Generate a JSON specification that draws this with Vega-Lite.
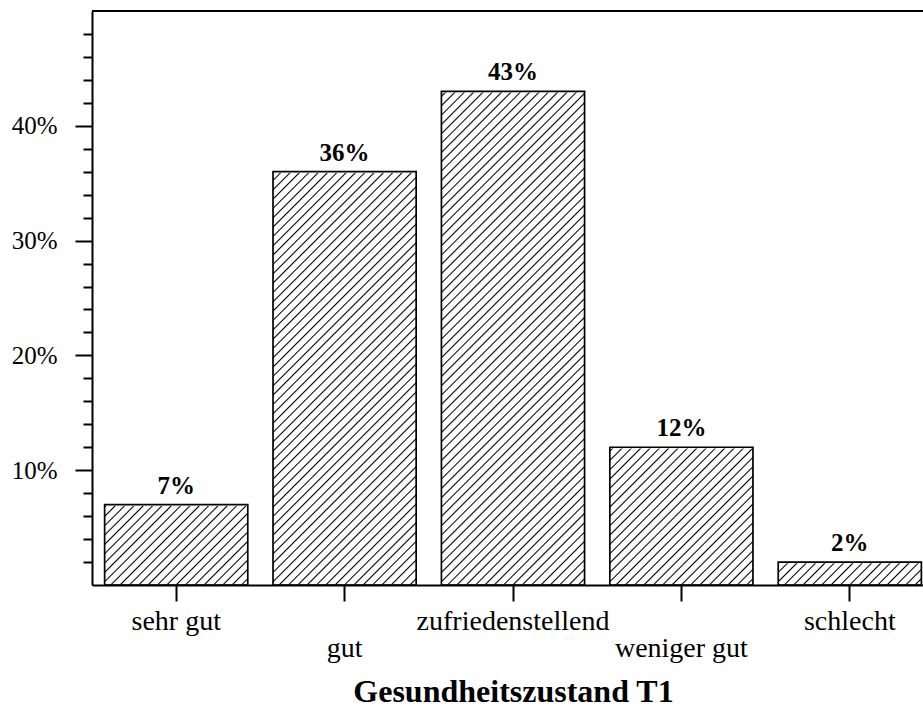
{
  "$schema": "https://vega.github.io/schema/vega-lite/v6.json",
  "width": 831,
  "height": 574,
  "autosize": {"type": "none"},
  "padding": {"left": 92, "top": 11, "right": 0, "bottom": 122},
  "background": "#ffffff",
  "config": {"view": {"stroke": null}, "font": "Liberation Serif"},
  "resolve": {"axis": {"x": "independent", "y": "independent"}},
  "data": {"values": [
    {"k": "sehr gut", "v": 0.07},
    {"k": "gut", "v": 0.36},
    {"k": "zufriedenstellend", "v": 0.43},
    {"k": "weniger gut", "v": 0.12},
    {"k": "schlecht", "v": 0.02}
  ]},
  "layer": [
    {
      "mark": {"type": "bar", "strokeWidth": 0, "fill": {"gradient": "linear", "x1": 0, "y1": 0, "x2": 0.3718, "y2": 1.3424, "stops": [
        {"offset":0,"color":"#000"},{"offset":0.002,"color":"#fff"},
        {"offset":0.0105,"color":"#fff"},{"offset":0.0125,"color":"#000"},{"offset":0.0145,"color":"#fff"},
        {"offset":0.023,"color":"#fff"},{"offset":0.025,"color":"#000"},{"offset":0.027,"color":"#fff"},
        {"offset":0.0355,"color":"#fff"},{"offset":0.0375,"color":"#000"},{"offset":0.0395,"color":"#fff"},
        {"offset":0.048,"color":"#fff"},{"offset":0.05,"color":"#000"},{"offset":0.052,"color":"#fff"},
        {"offset":0.0605,"color":"#fff"},{"offset":0.0625,"color":"#000"},{"offset":0.0645,"color":"#fff"},
        {"offset":0.073,"color":"#fff"},{"offset":0.075,"color":"#000"},{"offset":0.077,"color":"#fff"},
        {"offset":0.0855,"color":"#fff"},{"offset":0.0875,"color":"#000"},{"offset":0.0895,"color":"#fff"},
        {"offset":0.098,"color":"#fff"},{"offset":0.1,"color":"#000"},{"offset":0.102,"color":"#fff"},
        {"offset":0.1105,"color":"#fff"},{"offset":0.1125,"color":"#000"},{"offset":0.1145,"color":"#fff"},
        {"offset":0.123,"color":"#fff"},{"offset":0.125,"color":"#000"},{"offset":0.127,"color":"#fff"},
        {"offset":0.1355,"color":"#fff"},{"offset":0.1375,"color":"#000"},{"offset":0.1395,"color":"#fff"},
        {"offset":0.148,"color":"#fff"},{"offset":0.15,"color":"#000"},{"offset":0.152,"color":"#fff"},
        {"offset":0.1605,"color":"#fff"},{"offset":0.1625,"color":"#000"},{"offset":0.1645,"color":"#fff"},
        {"offset":0.173,"color":"#fff"},{"offset":0.175,"color":"#000"},{"offset":0.177,"color":"#fff"},
        {"offset":0.1855,"color":"#fff"},{"offset":0.1875,"color":"#000"},{"offset":0.1895,"color":"#fff"},
        {"offset":0.198,"color":"#fff"},{"offset":0.2,"color":"#000"},{"offset":0.202,"color":"#fff"},
        {"offset":0.2105,"color":"#fff"},{"offset":0.2125,"color":"#000"},{"offset":0.2145,"color":"#fff"},
        {"offset":0.223,"color":"#fff"},{"offset":0.225,"color":"#000"},{"offset":0.227,"color":"#fff"},
        {"offset":0.2355,"color":"#fff"},{"offset":0.2375,"color":"#000"},{"offset":0.2395,"color":"#fff"},
        {"offset":0.248,"color":"#fff"},{"offset":0.25,"color":"#000"},{"offset":0.252,"color":"#fff"},
        {"offset":0.2605,"color":"#fff"},{"offset":0.2625,"color":"#000"},{"offset":0.2645,"color":"#fff"},
        {"offset":0.273,"color":"#fff"},{"offset":0.275,"color":"#000"},{"offset":0.277,"color":"#fff"},
        {"offset":0.2855,"color":"#fff"},{"offset":0.2875,"color":"#000"},{"offset":0.2895,"color":"#fff"},
        {"offset":0.298,"color":"#fff"},{"offset":0.3,"color":"#000"},{"offset":0.302,"color":"#fff"},
        {"offset":0.3105,"color":"#fff"},{"offset":0.3125,"color":"#000"},{"offset":0.3145,"color":"#fff"},
        {"offset":0.323,"color":"#fff"},{"offset":0.325,"color":"#000"},{"offset":0.327,"color":"#fff"},
        {"offset":0.3355,"color":"#fff"},{"offset":0.3375,"color":"#000"},{"offset":0.3395,"color":"#fff"},
        {"offset":0.348,"color":"#fff"},{"offset":0.35,"color":"#000"},{"offset":0.352,"color":"#fff"},
        {"offset":0.3605,"color":"#fff"},{"offset":0.3625,"color":"#000"},{"offset":0.3645,"color":"#fff"},
        {"offset":0.373,"color":"#fff"},{"offset":0.375,"color":"#000"},{"offset":0.377,"color":"#fff"},
        {"offset":0.3855,"color":"#fff"},{"offset":0.3875,"color":"#000"},{"offset":0.3895,"color":"#fff"},
        {"offset":0.398,"color":"#fff"},{"offset":0.4,"color":"#000"},{"offset":0.402,"color":"#fff"},
        {"offset":0.4105,"color":"#fff"},{"offset":0.4125,"color":"#000"},{"offset":0.4145,"color":"#fff"},
        {"offset":0.423,"color":"#fff"},{"offset":0.425,"color":"#000"},{"offset":0.427,"color":"#fff"},
        {"offset":0.4355,"color":"#fff"},{"offset":0.4375,"color":"#000"},{"offset":0.4395,"color":"#fff"},
        {"offset":0.448,"color":"#fff"},{"offset":0.45,"color":"#000"},{"offset":0.452,"color":"#fff"},
        {"offset":0.4605,"color":"#fff"},{"offset":0.4625,"color":"#000"},{"offset":0.4645,"color":"#fff"},
        {"offset":0.473,"color":"#fff"},{"offset":0.475,"color":"#000"},{"offset":0.477,"color":"#fff"},
        {"offset":0.4855,"color":"#fff"},{"offset":0.4875,"color":"#000"},{"offset":0.4895,"color":"#fff"},
        {"offset":0.498,"color":"#fff"},{"offset":0.5,"color":"#000"},{"offset":0.502,"color":"#fff"},
        {"offset":0.5105,"color":"#fff"},{"offset":0.5125,"color":"#000"},{"offset":0.5145,"color":"#fff"},
        {"offset":0.523,"color":"#fff"},{"offset":0.525,"color":"#000"},{"offset":0.527,"color":"#fff"},
        {"offset":0.5355,"color":"#fff"},{"offset":0.5375,"color":"#000"},{"offset":0.5395,"color":"#fff"},
        {"offset":0.548,"color":"#fff"},{"offset":0.55,"color":"#000"},{"offset":0.552,"color":"#fff"},
        {"offset":0.5605,"color":"#fff"},{"offset":0.5625,"color":"#000"},{"offset":0.5645,"color":"#fff"},
        {"offset":0.573,"color":"#fff"},{"offset":0.575,"color":"#000"},{"offset":0.577,"color":"#fff"},
        {"offset":0.5855,"color":"#fff"},{"offset":0.5875,"color":"#000"},{"offset":0.5895,"color":"#fff"},
        {"offset":0.598,"color":"#fff"},{"offset":0.6,"color":"#000"},{"offset":0.602,"color":"#fff"},
        {"offset":0.6105,"color":"#fff"},{"offset":0.6125,"color":"#000"},{"offset":0.6145,"color":"#fff"},
        {"offset":0.623,"color":"#fff"},{"offset":0.625,"color":"#000"},{"offset":0.627,"color":"#fff"},
        {"offset":0.6355,"color":"#fff"},{"offset":0.6375,"color":"#000"},{"offset":0.6395,"color":"#fff"},
        {"offset":0.648,"color":"#fff"},{"offset":0.65,"color":"#000"},{"offset":0.652,"color":"#fff"},
        {"offset":0.6605,"color":"#fff"},{"offset":0.6625,"color":"#000"},{"offset":0.6645,"color":"#fff"},
        {"offset":0.673,"color":"#fff"},{"offset":0.675,"color":"#000"},{"offset":0.677,"color":"#fff"},
        {"offset":0.6855,"color":"#fff"},{"offset":0.6875,"color":"#000"},{"offset":0.6895,"color":"#fff"},
        {"offset":0.698,"color":"#fff"},{"offset":0.7,"color":"#000"},{"offset":0.702,"color":"#fff"},
        {"offset":0.7105,"color":"#fff"},{"offset":0.7125,"color":"#000"},{"offset":0.7145,"color":"#fff"},
        {"offset":0.723,"color":"#fff"},{"offset":0.725,"color":"#000"},{"offset":0.727,"color":"#fff"},
        {"offset":0.7355,"color":"#fff"},{"offset":0.7375,"color":"#000"},{"offset":0.7395,"color":"#fff"},
        {"offset":0.748,"color":"#fff"},{"offset":0.75,"color":"#000"},{"offset":0.752,"color":"#fff"},
        {"offset":0.7605,"color":"#fff"},{"offset":0.7625,"color":"#000"},{"offset":0.7645,"color":"#fff"},
        {"offset":0.773,"color":"#fff"},{"offset":0.775,"color":"#000"},{"offset":0.777,"color":"#fff"},
        {"offset":0.7855,"color":"#fff"},{"offset":0.7875,"color":"#000"},{"offset":0.7895,"color":"#fff"},
        {"offset":0.798,"color":"#fff"},{"offset":0.8,"color":"#000"},{"offset":0.802,"color":"#fff"},
        {"offset":0.8105,"color":"#fff"},{"offset":0.8125,"color":"#000"},{"offset":0.8145,"color":"#fff"},
        {"offset":0.823,"color":"#fff"},{"offset":0.825,"color":"#000"},{"offset":0.827,"color":"#fff"},
        {"offset":0.8355,"color":"#fff"},{"offset":0.8375,"color":"#000"},{"offset":0.8395,"color":"#fff"},
        {"offset":0.848,"color":"#fff"},{"offset":0.85,"color":"#000"},{"offset":0.852,"color":"#fff"},
        {"offset":0.8605,"color":"#fff"},{"offset":0.8625,"color":"#000"},{"offset":0.8645,"color":"#fff"},
        {"offset":0.873,"color":"#fff"},{"offset":0.875,"color":"#000"},{"offset":0.877,"color":"#fff"},
        {"offset":0.8855,"color":"#fff"},{"offset":0.8875,"color":"#000"},{"offset":0.8895,"color":"#fff"}
      ]}},
      "encoding": {
        "x": {"field": "k", "type": "nominal", "sort": null, "title": "Gesundheitszustand T1", "axis": null},
        "y": {"datum": 0.45, "type": "quantitative", "title": null, "axis": null},
        "y2": {"datum": 0}
      }
    },
    {
      "mark": {"type": "bar", "fill": "#ffffff", "stroke": "#ffffff", "strokeWidth": 2.5},
      "encoding": {
        "x": {"field": "k", "type": "nominal", "sort": null, "title": "Gesundheitszustand T1", "axis": null},
        "y": {"field": "v", "type": "quantitative", "title": null, "axis": null},
        "y2": {"datum": 0.47}
      }
    },
    {
      "mark": {"type": "bar", "fill": "#ffffff", "fillOpacity": 0, "stroke": "#000", "strokeWidth": 1.7},
      "encoding": {
        "x": {"field": "k", "type": "nominal", "sort": null, "title": "Gesundheitszustand T1",
              "scale": {"range": [0, 842], "paddingInner": 0.15, "paddingOuter": 0.075},
              "axis": {
                "zindex": 1, "labelAngle": 0, "labelFont": "Liberation Serif", "labelFontSize": 28, "labelColor": "#000",
                "labelLimit": 0, "labelOverlap": false, "labelFlush": false, "labelBaseline": "alphabetic",
                "labelPadding": 28, "labelLineHeight": 27,
                "labelExpr": "datum.label == 'gut' || datum.label == 'weniger gut' ? ['', datum.label] : datum.label",
                "tickSize": 16, "tickWidth": 2, "tickColor": "#000", "domainColor": "#000", "domainWidth": 2,
                "titleFont": "Liberation Serif", "titleFontWeight": "bold", "titleFontSize": 32, "titleColor": "#000",
                "titlePadding": 14, "grid": false
              }},
        "y": {"field": "v", "type": "quantitative", "title": null,
              "scale": {"domain": [0, 0.5], "nice": false, "zero": true},
              "axis": {
                "zindex": 1, "format": ".0%", "values": [0.02,0.04,0.06,0.08,0.1,0.12,0.14,0.16,0.18,0.2,0.22,0.24,0.26,0.28,0.3,0.32,0.34,0.36,0.38,0.4,0.42,0.44,0.46,0.48],
                "labelExpr": "round(datum.value*100) % 10 === 0 ? datum.label : ''",
                "labelFont": "Liberation Serif", "labelFontSize": 25, "labelColor": "#000", "labelPadding": 18,
                "tickSize": {"condition": {"test": "round(datum.value*100) % 10 === 0", "value": 17}, "value": 9},
                "tickWidth": 2, "tickColor": "#000", "domainColor": "#000", "domainWidth": 2, "grid": false,
                "labelOverlap": false
              }}
      }
    },
    {
      "mark": {"type": "text", "font": "Liberation Serif", "fontWeight": "bold", "fontSize": 25, "baseline": "alphabetic", "align": "center", "dy": -11, "color": "#000"},
      "encoding": {
        "x": {"field": "k", "type": "nominal", "sort": null, "title": "Gesundheitszustand T1", "axis": null},
        "y": {"field": "v", "type": "quantitative", "title": null, "axis": null},
        "text": {"field": "v", "type": "quantitative", "format": ".0%"}
      }
    },
    {
      "mark": {"type": "rule", "stroke": "#000", "strokeWidth": 1.7},
      "encoding": {
        "y": {"datum": 0.5, "type": "quantitative", "title": null, "axis": null}
      }
    }
  ]
}
